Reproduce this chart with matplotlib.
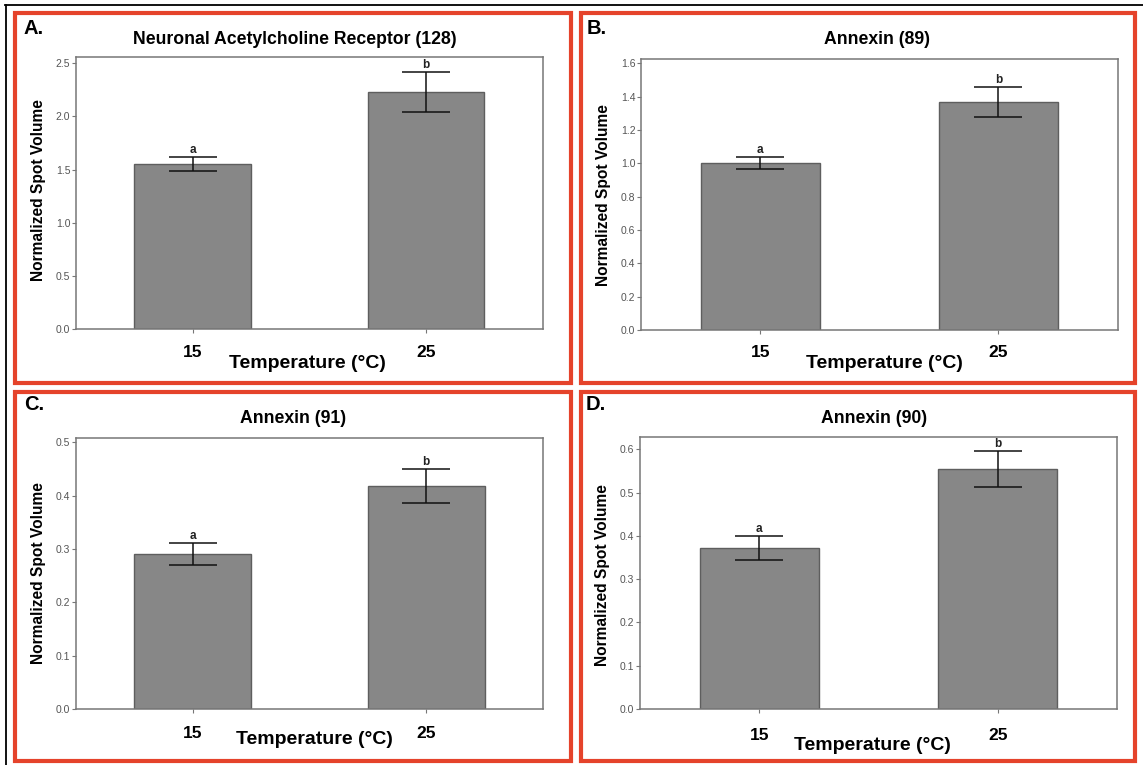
import matplotlib
matplotlib.use('Agg')
import matplotlib.pyplot as plt
from matplotlib.patches import Rectangle
from matplotlib.lines import Line2D
from matplotlib.ticker import FormatStrFormatter

plt.rcParams['font.family'] = ['Liberation Sans', 'DejaVu Sans']

# data
temps = ['15', '25']
letters = ['a', 'b']
titles = ['Neuronal Acetylcholine Receptor (128)', 'Annexin (89)', 'Annexin (91)', 'Annexin (90)']
panel_tags = ['A.', 'B.', 'C.', 'D.']
means_a = [1.555, 2.228]
errs_a = [0.063, 0.19]
means_b = [1.002, 1.370]
errs_b = [0.036, 0.090]
means_c = [0.291, 0.419]
errs_c = [0.021, 0.032]
means_d = [0.372, 0.554]
errs_d = [0.028, 0.041]
ytop = [2.556, 1.628, 0.509, 0.629]
ystep = [0.5, 0.2, 0.1, 0.1]
ymax_tick = [2.5, 1.6, 0.5, 0.6]

W, H = 1143, 765
fig = plt.figure(figsize=(W / 100, H / 100), dpi=100)

# layout in pixels
axes_px = [(75.8, 57.3, 542.7, 329.3), (641, 58.7, 1117.6, 330),
           (76, 437.7, 543, 709), (640, 436.7, 1117, 709)]
title_px = [(295, 39), (877, 39), (293, 418), (874, 418)]
ylab_px = [(39, 190), (603, 195), (39, 573), (602, 575)]
xlab_px = [(307, 363), (884, 363), (314, 740), (872, 745)]
tick_y_px = [353, 353, 734, 736]
tag_px = [(24, 28), (587, 28), (24, 404), (586, 405)]
box_px = [(15, 13, 571, 383), (581, 13, 1135, 383), (15, 392, 571, 761), (581, 392, 1135, 761)]

all_means = [means_a, means_b, means_c, means_d]
all_errs = [errs_a, errs_b, errs_c, errs_d]

for i in range(4):
    l, t, r, b = axes_px[i]
    ax = fig.add_axes([l / W, 1 - b / H, (r - l) / W, (b - t) / H])
    x = list(range(len(temps)))
    ax.bar(x, all_means[i], width=0.5, color='#878787', edgecolor='#5e5e5e', linewidth=1)
    ax.errorbar(x, all_means[i], yerr=all_errs[i], fmt='none', ecolor='#111111',
                elinewidth=1.1, capsize=17, capthick=1.1)
    for xi, m, e, lt in zip(x, all_means[i], all_errs[i], letters):
        ax.annotate(lt, (xi, m + e), xytext=(0, 7), textcoords='offset pixels',
                    ha='center', va='center', fontsize=8.5, fontweight='bold', color='#222222')
    ax.set_xlim(-0.5, 1.5)
    ax.set_ylim(0, ytop[i])
    n = int(round(ymax_tick[i] / ystep[i]))
    ax.set_yticks([k * ystep[i] for k in range(n + 1)])
    ax.yaxis.set_major_formatter(FormatStrFormatter('%.1f'))
    ax.tick_params(axis='y', labelsize=7.5, labelcolor='#555555', color='#777777',
                   length=3, width=0.8, pad=1)
    ax.set_xticks(x)
    ax.set_xticklabels(temps, fontsize=12.5, fontweight='bold')
    ax.tick_params(axis='x', color='#777777', length=3, width=0.8,
                   pad=(tick_y_px[i] - b) / 1.389 - 3 - 6)
    for s in ax.spines.values():
        s.set_color('#777777')
        s.set_linewidth(1.1)

    ax.set_title(titles[i], fontsize=12.7, fontweight='bold', va='center', pad=0,
                 x=(title_px[i][0] - l) / (r - l), y=(b - title_px[i][1]) / (b - t))
    ax.set_ylabel('Normalized Spot Volume', fontsize=11.2, fontweight='bold', va='center')
    ax.yaxis.set_label_coords((ylab_px[i][0] - l) / (r - l), (b - ylab_px[i][1]) / (b - t))
    ax.set_xlabel('Temperature (°C)', fontsize=14, fontweight='bold', va='center')
    ax.xaxis.set_label_coords((xlab_px[i][0] - l) / (r - l), (b - xlab_px[i][1]) / (b - t))

    fig.text(tag_px[i][0] / W, 1 - tag_px[i][1] / H, panel_tags[i], fontsize=14.5,
             fontweight='bold', va='center', ha='left')

    bl, bt, br, bb = box_px[i]
    fig.add_artist(Rectangle((bl / W, 1 - bb / H), (br - bl) / W, (bb - bt) / H,
                             transform=fig.transFigure, fill=False,
                             edgecolor='#e5432b', linewidth=3))

# thin black outer frame (top and left)
fig.add_artist(Line2D([5 / W, 1], [1 - 4.5 / H, 1 - 4.5 / H], transform=fig.transFigure,
                      color='black', linewidth=1.3))
fig.add_artist(Line2D([5.5 / W, 5.5 / W], [0, 1 - 4.5 / H], transform=fig.transFigure,
                      color='black', linewidth=1.3))

fig.savefig('out.png', dpi=100)
